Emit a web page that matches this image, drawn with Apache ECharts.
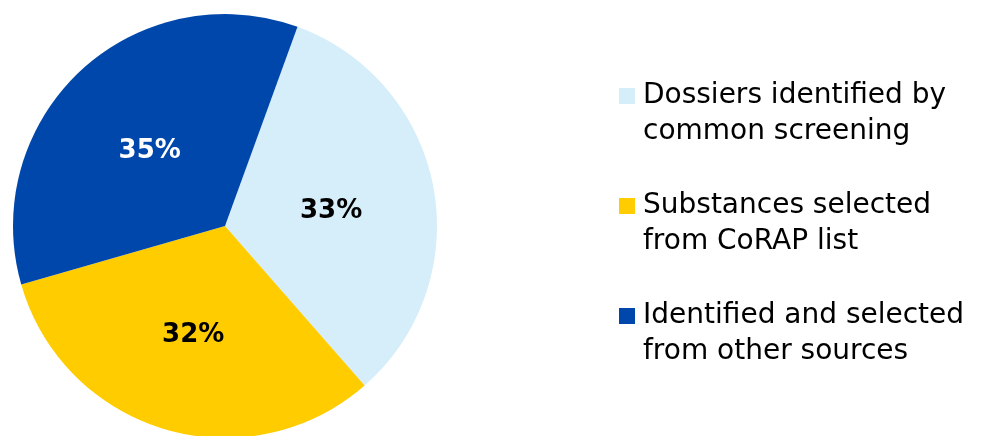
<!DOCTYPE html>
<html lang="en">
<head>
    <meta charset="UTF-8">
    <title>Pie</title>
    <script src="https://cdn.jsdelivr.net/npm/echarts@6/dist/echarts.min.js"></script>
    <style>
        html, body { margin: 0; padding: 0; background: #fff; }
    </style>
</head>
<body>
        <div id="main" style="width: 987px;height:436px;"></div>

        <script type="text/javascript">
            // slice names (legend text, two lines each) and shares in %
            const names = ['Dossiers identified by\ncommon screening', 'Substances selected\nfrom CoRAP list', 'Identified and selected\nfrom other sources']
            const values = [33, 32, 35]
            const colors = ['#d6eef9', '#ffcc00', '#0047ab']
            const labelColors = ['#000', '#000', '#fff']

            const legendFont = { fontFamily: 'DejaVu Sans', fontSize: 28, lineHeight: 36, color: '#000' }

            var myChart = echarts.init(document.getElementById('main'));

            var option = {
                animation: false,
                legend: {
                    orient: 'vertical',
                    left: 619,
                    top: 42,
                    padding: 0,
                    icon: 'rect',
                    itemWidth: 16,
                    itemHeight: 16,
                    itemGap: 2,
                    selectedMode: false,
                    // blank first line so the square sits next to the first text line
                    formatter: name => '\n' + name.split('\n').map(s => '{t|' + s + '}').join('\n'),
                    textStyle: {
                        ...legendFont,
                        rich: {
                            t: { ...legendFont, padding: [0, 0, 0, 3] }
                        }
                    },
                    data: names
                },
                series: [
                    {
                        type: 'pie',
                        center: [225, 226],
                        radius: 212,
                        startAngle: 70,
                        clockwise: true,
                        silent: true,
                        label: {
                            show: true,
                            position: 'inside',
                            formatter: '{c}%',
                            fontFamily: 'DejaVu Sans',
                            fontWeight: 'bold',
                            fontSize: 26,
                            offset: [-1, 5]
                        },
                        labelLine: { show: false },
                        data: values.map((v, i) => {
                            return {
                                value: v,
                                name: names[i],
                                itemStyle: { color: colors[i] },
                                label: { color: labelColors[i] }
                            }
                        })
                    }
                ]
            };

            myChart.setOption(option);
        </script>
</body>
</html>
